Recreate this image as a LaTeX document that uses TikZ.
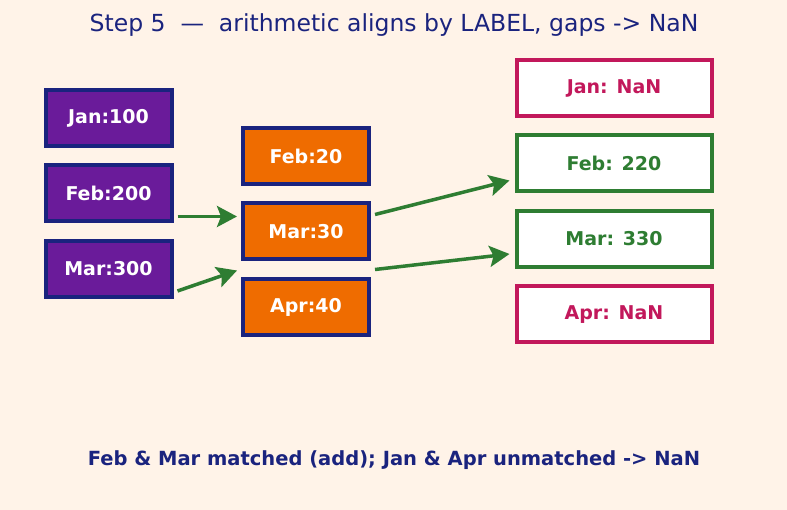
\documentclass[tikz,border=0pt]{standalone}
\usepackage{fontspec}
\setmainfont{DejaVu Sans}
\usetikzlibrary{arrows.meta}
\definecolor{bg}{HTML}{FFF3E8}
\definecolor{navy}{HTML}{1A237E}
\definecolor{purp}{HTML}{6A1B9A}
\definecolor{orng}{HTML}{EF6C00}
\definecolor{grn}{HTML}{2E7D32}
\definecolor{crim}{HTML}{C2185B}
\tikzset{
  box/.style={draw, line width=4pt, minimum width=#1, minimum height=56pt, inner sep=0pt, font=\fontsize{19}{19}\selectfont\bfseries},
  leftbox/.style={box=126pt, draw=navy, fill=purp, text=white},
  midbox/.style={box=126pt, draw=navy, fill=orng, text=white},
  nanbox/.style={box=195pt, draw=crim, fill=white, text=crim},
  okbox/.style={box=195pt, draw=grn, fill=white, text=grn},
  conn/.style={draw=grn, line width=3.5pt, -{Stealth[length=20pt,width=21pt,inset=4pt]}}
}
\begin{document}
\begin{tikzpicture}[x=1pt,y=-1pt]
\fill[bg] (0,0) rectangle (787,510);
\useasboundingbox (0,0) rectangle (787,510);
\node[font=\fontsize{23.5}{23.5}\selectfont, text=navy] (title) at (394,25) {Step 5\ \ —\ \ arithmetic aligns by LABEL, gaps -> NaN};
\node[leftbox] (lj) at (108.5,118.5) {Jan:100};
\node[leftbox] (lf) at (108.5,193.5) {Feb:200};
\node[leftbox] (lm) at (108.5,269) {Mar:300};
\node[midbox] (mf) at (306,156) {Feb:20};
\node[midbox] (mm) at (306,231.5) {Mar:30};
\node[midbox] (ma) at (306,307) {Apr:40};
\node[nanbox] (rj) at (614,88) {Jan: NaN};
\node[okbox] (rf) at (614,163.5) {Feb: 220};
\node[okbox] (rm) at (614,239) {Mar: 330};
\node[nanbox] (ra) at (614,314.5) {Apr: NaN};
\node[font=\fontsize{19.5}{19.5}\selectfont\bfseries, text=navy] (foot) at (394,460) {Feb \& Mar matched (add); Jan \& Apr unmatched -> NaN};
\coordinate (a1s) at ([xshift=4pt,yshift=7pt]lf.south east);
\coordinate (a1e) at ([xshift=-4pt,yshift=-15pt]mm.north west);
\coordinate (a2s) at ([xshift=4pt,yshift=8pt]lm.south east);
\coordinate (a2e) at ([xshift=-4pt,yshift=-9pt]mm.south west);
\coordinate (a3s) at ([xshift=4pt,yshift=-13pt]mm.north east);
\coordinate (a3e) at ([xshift=-5pt,yshift=13pt]rf.south west);
\coordinate (a4s) at ([xshift=4pt,yshift=-8pt]mm.south east);
\coordinate (a4e) at ([xshift=-5pt,yshift=15pt]rm.south west);
\draw[conn] (a1s) -- (a1e);
\draw[conn] (a2s) -- (a2e);
\draw[conn] (a3s) -- (a3e);
\draw[conn] (a4s) -- (a4e);
\end{tikzpicture}
\end{document}
